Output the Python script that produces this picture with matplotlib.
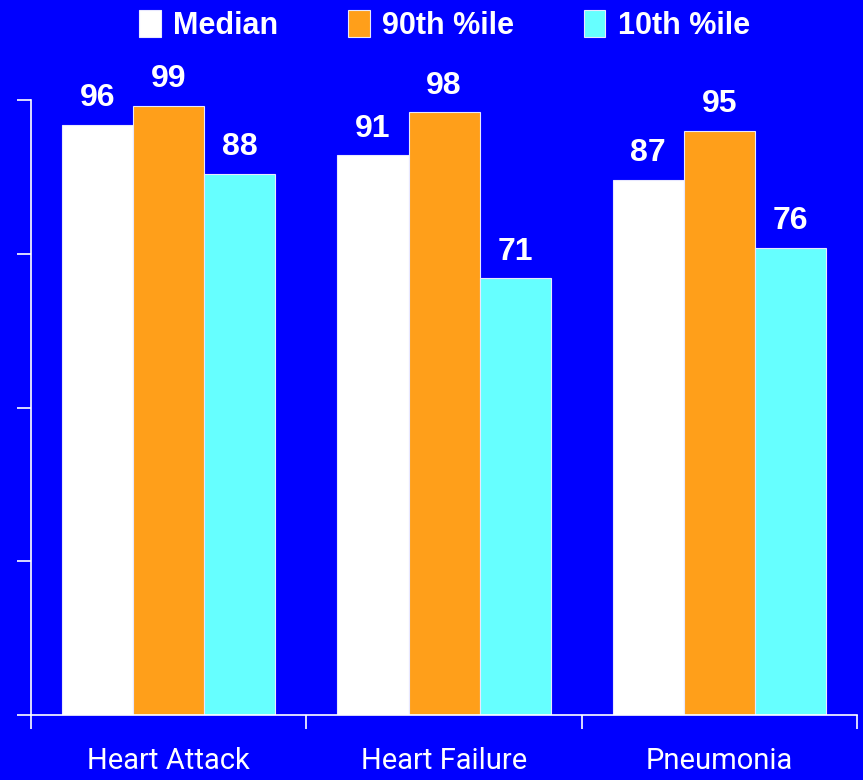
import matplotlib
matplotlib.use("Agg")
import matplotlib.pyplot as plt
import numpy as np

# Scores by condition
categories = ["Heart Attack", "Heart Failure", "Pneumonia"]
series_names = ["Median", "90th %ile", "10th %ile"]
median = [96, 91, 87]
p90 = [99, 98, 95]
p10 = [88, 71, 76]

BG = "#0000FF"
COLORS = ["#FFFFFF", "#FF9F1A", "#66FFFF"]

fig = plt.figure(figsize=(8.63, 7.80), dpi=100, facecolor=BG)
ax = fig.add_axes([0.036, 0.0833, 0.957, 0.7885], facecolor=BG)

x = np.arange(len(categories))
width = 0.258
for i, (name, vals, col) in enumerate(zip(series_names, [median, p90, p10], COLORS)):
    pos = x + (i - 1) * width
    ax.bar(pos, vals, width, color=col, edgecolor="#E8E8FF", linewidth=0.8, label=name)
    for px, v in zip(pos, vals):
        ax.text(px, v + 1.9, str(v), ha="center", va="bottom", color="white",
                fontsize=23, fontweight="bold", family="Liberation Sans", clip_on=False)

ax.set_xlim(-0.5, 2.5)
ax.set_ylim(0, 100)
ax.set_yticks([0, 25, 50, 75, 100])
ax.set_yticklabels([])
ax.set_xticks([-0.5, 0.5, 1.5, 2.5])
ax.set_xticklabels([])
ax.set_xticks(x, minor=True)
ax.set_xticklabels(categories, minor=True, color="white", fontsize=21,
                   family=["Roboto", "DejaVu Sans"])
ax.tick_params(axis="x", which="minor", length=0, pad=23)
ax.tick_params(axis="both", which="major", color="white", length=10, width=1.2)

for side in ["top", "right"]:
    ax.spines[side].set_visible(False)
for side in ["left", "bottom"]:
    ax.spines[side].set_color("white")
    ax.spines[side].set_linewidth(1.2)

leg = fig.legend(loc="upper center", bbox_to_anchor=(0.515, 1.022), ncol=3,
                 frameon=False, handlelength=0.7, handleheight=0.95,
                 handletextpad=0.4, columnspacing=2.3,
                 prop={"family": "Liberation Sans", "weight": "bold", "size": 22})
for t in leg.get_texts():
    t.set_color("white")

fig.savefig("out.png", dpi=100, facecolor=BG)
